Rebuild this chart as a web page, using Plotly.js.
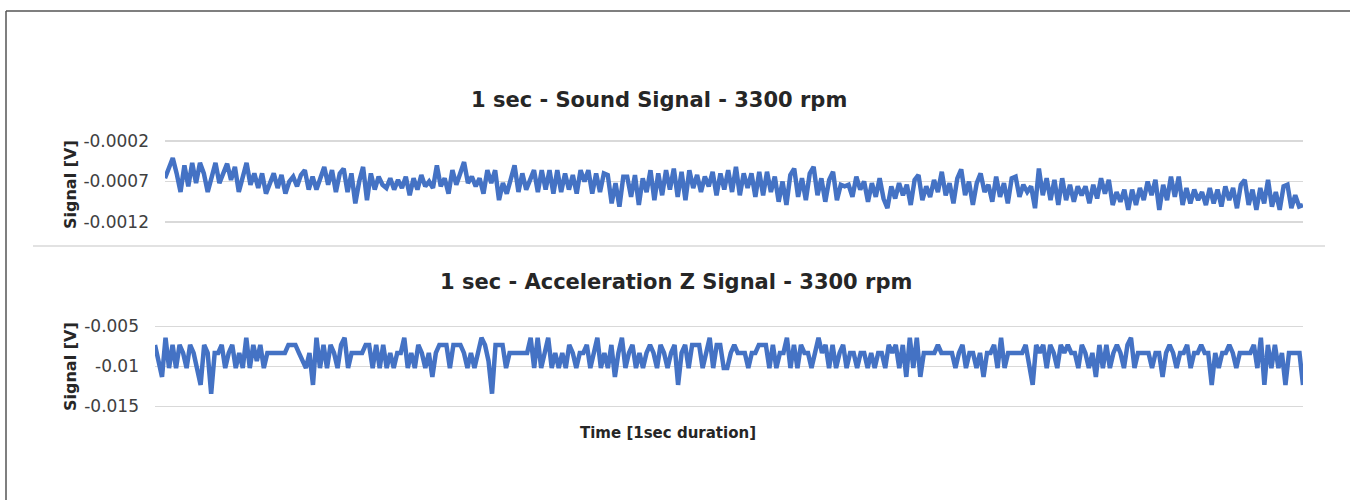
<!DOCTYPE html>
<html>
<head>
<meta charset="utf-8">
<script src="https://cdn.plot.ly/plotly-3.0.1.min.js"></script>
<style>
  html, body { margin: 0; padding: 0; background: #ffffff; }
  #chart { width: 1350px; height: 500px; }
</style>
</head>
<body>
<div id="chart"></div>
<script>
// ---------- DATA ----------
const soundTitle = "1 sec - Sound Signal - 3300 rpm";
const accelTitle = "1 sec - Acceleration Z Signal - 3300 rpm";
const xAxisTitle = "Time [1sec duration]";
const yAxisTitle = "Signal [V]";

const soundTickVals = [-0.0012, -0.0007, -0.0002];
const soundTickText = ["-0.0012", "-0.0007", "-0.0002"];
const accelTickVals = [-0.015, -0.01, -0.005];
const accelTickText = ["-0.015", "-0.01", "-0.005"];

// Sound signal [V]
const soundSignal = [
  -0.00066,-0.00052,-0.00041,-0.00060,-0.00083,-0.00050,-0.00076,-0.00047,-0.00072,-0.00047,
  -0.00060,-0.00083,-0.00065,-0.00047,-0.00072,-0.00058,-0.00048,-0.00068,-0.00052,-0.00083,
  -0.00062,-0.00047,-0.00074,-0.00060,-0.00078,-0.00060,-0.00085,-0.00072,-0.00060,-0.00078,
  -0.00062,-0.00085,-0.00070,-0.00064,-0.00076,-0.00062,-0.00056,-0.00080,-0.00064,-0.00080,
  -0.00066,-0.00052,-0.00074,-0.00056,-0.00083,-0.00060,-0.00054,-0.00083,-0.00060,-0.00097,
  -0.00070,-0.00052,-0.00093,-0.00060,-0.00080,-0.00064,-0.00074,
  -0.00078,-0.00066,-0.00080,-0.00068,-0.00078,-0.00064,-0.00087,-0.00066,-0.00080,-0.00062,
  -0.00076,-0.00070,-0.00078,-0.00050,-0.00076,-0.00066,-0.00085,-0.00056,-0.00074,-0.00060,
  -0.00046,-0.00072,-0.00064,-0.00076,-0.00066,-0.00085,-0.00056,-0.00072,-0.00056,-0.00093,
  -0.00072,-0.00085,-0.00068,-0.00050,-0.00083,-0.00060,-0.00080,-0.00066,-0.00056,-0.00083,
  -0.00056,-0.00080,-0.00056,-0.00085,-0.00056,-0.00083,-0.00060,-0.00080,-0.00062,-0.00085,
  -0.00056,-0.00070,-0.00056,-0.00085,-0.00060,-0.00083,-0.00060,-0.00062,-0.00097,-0.00072,
  -0.00101,-0.00064,
  -0.00064,-0.00089,-0.00062,-0.00099,-0.00066,-0.00083,-0.00056,-0.00093,-0.00060,-0.00087,
  -0.00056,-0.00080,-0.00054,-0.00089,-0.00058,-0.00093,-0.00056,-0.00078,-0.00062,-0.00083,
  -0.00064,-0.00076,-0.00058,-0.00087,-0.00060,-0.00080,-0.00056,-0.00083,-0.00052,-0.00087,
  -0.00060,-0.00078,-0.00060,-0.00089,-0.00058,-0.00087,-0.00058,-0.00083,-0.00064,-0.00095,
  -0.00070,-0.00099,-0.00062,-0.00054,-0.00089,-0.00066,-0.00093,-0.00060,-0.00052,-0.00087,
  -0.00066,-0.00095,-0.00068,-0.00058,-0.00093,-0.00074,-0.00076,-0.00074,-0.00089,
  -0.00064,-0.00080,-0.00070,-0.00095,-0.00072,-0.00089,-0.00066,-0.00091,-0.00103,-0.00076,
  -0.00091,-0.00072,-0.00087,-0.00074,-0.00099,-0.00068,-0.00062,-0.00093,-0.00076,-0.00089,
  -0.00068,-0.00083,-0.00058,-0.00087,-0.00072,-0.00097,-0.00066,-0.00055,-0.00087,-0.00070,
  -0.00099,-0.00072,-0.00060,-0.00083,-0.00074,-0.00095,-0.00064,-0.00089,-0.00072,-0.00097,
  -0.00066,-0.00064,-0.00089,-0.00074,-0.00083,-0.00076,-0.00103,-0.00054,-0.00087,-0.00066,
  -0.00093,-0.00068,-0.00099,-0.00066,-0.00093,-0.00074,-0.00095,-0.00076,-0.00087,
  -0.00076,-0.00097,-0.00074,-0.00091,-0.00066,-0.00085,-0.00068,-0.00099,-0.00083,-0.00095,
  -0.00080,-0.00105,-0.00080,-0.00099,-0.00078,-0.00093,-0.00070,-0.00087,-0.00068,-0.00105,
  -0.00074,-0.00093,-0.00064,-0.00089,-0.00064,-0.00099,-0.00078,-0.00097,-0.00080,-0.00093,
  -0.00083,-0.00099,-0.00078,-0.00097,-0.00080,-0.00101,-0.00076,-0.00093,-0.00078,-0.00103,
  -0.00074,-0.00068,-0.00099,-0.00080,-0.00105,-0.00078,-0.00097,-0.00068,-0.00101,-0.00083,
  -0.00105,-0.00076,-0.00074,-0.00103,-0.00087,-0.00101,-0.00099
];

// Acceleration Z signal [V]
const accelSignal = [
  -0.0073,-0.0093,-0.0113,-0.0064,-0.0102,-0.0073,-0.0102,-0.0073,-0.0083,-0.0102,
  -0.0073,-0.0083,-0.0102,-0.0123,-0.0073,-0.0083,-0.0134,-0.0083,-0.0083,-0.0073,
  -0.0102,-0.0083,-0.0073,-0.0102,-0.0083,-0.0102,-0.0064,-0.0102,-0.0073,-0.0093,
  -0.0073,-0.0102,-0.0083,-0.0083,-0.0083,-0.0083,-0.0083,-0.0083,-0.0073,-0.0073,
  -0.0073,-0.0083,-0.0093,-0.0102,-0.0083,-0.0123,-0.0064,-0.0102,-0.0073,-0.0102,
  -0.0073,-0.0083,-0.0102,-0.0073,-0.0064,-0.0102,-0.0083,-0.0083,-0.0083,-0.0083,
  -0.0073,-0.0073,-0.0102,-0.0073,-0.0102,-0.0073,-0.0102,
  -0.0083,-0.0102,-0.0083,-0.0083,-0.0064,-0.0102,-0.0083,-0.0102,-0.0073,-0.0083,
  -0.0102,-0.0083,-0.0113,-0.0083,-0.0073,-0.0073,-0.0073,-0.0102,-0.0073,-0.0073,
  -0.0073,-0.0083,-0.0102,-0.0083,-0.0102,-0.0083,-0.0064,-0.0073,-0.0093,-0.0134,
  -0.0073,-0.0073,-0.0073,-0.0102,-0.0083,-0.0083,-0.0083,-0.0083,-0.0083,-0.0083,
  -0.0064,-0.0102,-0.0064,-0.0102,-0.0083,-0.0064,-0.0102,-0.0083,-0.0102,-0.0083,
  -0.0102,-0.0073,-0.0083,-0.0102,-0.0083,-0.0083,-0.0073,-0.0102,-0.0083,-0.0064,
  -0.0102,-0.0083,-0.0102,-0.0073,-0.0113,-0.0083,-0.0064,-0.0102,-0.0083,
  -0.0073,-0.0102,-0.0083,-0.0102,-0.0083,-0.0073,-0.0083,-0.0102,-0.0073,-0.0083,
  -0.0102,-0.0083,-0.0073,-0.0123,-0.0083,-0.0073,-0.0102,-0.0073,-0.0073,-0.0073,
  -0.0102,-0.0083,-0.0064,-0.0102,-0.0073,-0.0073,-0.0102,-0.0102,-0.0083,-0.0073,
  -0.0083,-0.0083,-0.0083,-0.0102,-0.0083,-0.0083,-0.0073,-0.0073,-0.0073,-0.0102,
  -0.0073,-0.0102,-0.0083,-0.0083,-0.0064,-0.0102,-0.0073,-0.0102,-0.0073,-0.0083,
  -0.0083,-0.0102,-0.0083,-0.0064,-0.0083,-0.0073,-0.0102,-0.0073,-0.0102,-0.0083,
  -0.0073,-0.0102,-0.0083,
  -0.0083,-0.0102,-0.0083,-0.0083,-0.0102,-0.0083,-0.0102,-0.0083,-0.0083,-0.0102,
  -0.0073,-0.0083,-0.0073,-0.0102,-0.0073,-0.0113,-0.0064,-0.0102,-0.0064,-0.0113,
  -0.0083,-0.0083,-0.0083,-0.0083,-0.0073,-0.0083,-0.0083,-0.0083,-0.0083,-0.0102,
  -0.0083,-0.0073,-0.0102,-0.0083,-0.0083,-0.0102,-0.0083,-0.0113,-0.0083,-0.0083,
  -0.0073,-0.0102,-0.0064,-0.0102,-0.0083,-0.0083,-0.0083,-0.0083,-0.0083,-0.0073,
  -0.0102,-0.0123,-0.0073,-0.0083,-0.0073,-0.0102,-0.0073,-0.0083,-0.0102,-0.0073,
  -0.0083,-0.0073,-0.0083,-0.0083,-0.0102,
  -0.0073,-0.0083,-0.0102,-0.0083,-0.0113,-0.0073,-0.0102,-0.0073,-0.0102,-0.0083,
  -0.0073,-0.0083,-0.0102,-0.0073,-0.0064,-0.0102,-0.0083,-0.0083,-0.0083,-0.0083,
  -0.0102,-0.0083,-0.0083,-0.0113,-0.0083,-0.0073,-0.0083,-0.0102,-0.0083,-0.0083,
  -0.0073,-0.0102,-0.0083,-0.0083,-0.0073,-0.0083,-0.0083,-0.0123,-0.0083,-0.0102,
  -0.0083,-0.0083,-0.0073,-0.0083,-0.0102,-0.0083,-0.0083,-0.0083,-0.0083,-0.0073,
  -0.0102,-0.0064,-0.0123,-0.0073,-0.0102,-0.0073,-0.0102,-0.0083,-0.0123,-0.0083,
  -0.0083,-0.0083,-0.0083,-0.0123
];

// ---------- CHART ----------
const W = 1350, H = 500;
const px = v => v / W;          // pixel -> paper x
const py = v => 1 - v / H;      // pixel -> paper y

const soundX = soundSignal.map((_, i) => i);
const accelX = accelSignal.map((_, i) => i);

const lineColor = "#4472C4";
const textFont = "DejaVu Sans, Verdana, sans-serif";

const traces = [
  { x: soundX, y: soundSignal, xaxis: "x", yaxis: "y", type: "scatter", mode: "lines",
    line: { color: lineColor, width: 4.5 }, hoverinfo: "skip", showlegend: false },
  { x: accelX, y: accelSignal, xaxis: "x2", yaxis: "y2", type: "scatter", mode: "lines",
    line: { color: lineColor, width: 4.5 }, hoverinfo: "skip", showlegend: false }
];

const yCommon = {
  showgrid: true, gridcolor: "#d9d9d9", gridwidth: 1.2,
  zeroline: false, showline: false, ticks: "",
  tickfont: { family: textFont, size: 17, color: "#404040" },
  fixedrange: true
};
const xCommon = {
  showgrid: false, zeroline: false, showline: false, showticklabels: false, ticks: "",
  fixedrange: true
};

const layout = {
  width: W, height: H,
  margin: { l: 0, r: 0, t: 0, b: 0, pad: 0 },
  paper_bgcolor: "#ffffff", plot_bgcolor: "rgba(0,0,0,0)",
  showlegend: false,
  xaxis: Object.assign({}, xCommon, { domain: [px(165), px(1303)], range: [0, soundSignal.length - 1], anchor: "y" }),
  yaxis: Object.assign({}, yCommon, {
    domain: [py(223.6), py(139.4)], range: [-0.00122, -0.00018], anchor: "x",
    tickmode: "array", tickvals: soundTickVals, ticktext: soundTickText, ticklabelstandoff: 15
  }),
  xaxis2: Object.assign({}, xCommon, { domain: [px(155), px(1303)], range: [0, accelSignal.length - 1], anchor: "y2" }),
  yaxis2: Object.assign({}, yCommon, {
    domain: [py(408.1), py(324.9)], range: [-0.0152, -0.0048], anchor: "x2",
    tickmode: "array", tickvals: accelTickVals, ticktext: accelTickText, ticklabelstandoff: 15
  }),
  shapes: [
    { type: "line", xref: "paper", yref: "paper", x0: px(6), x1: 1, y0: py(11), y1: py(11), line: { color: "#555555", width: 1.5 } },
    { type: "line", xref: "paper", yref: "paper", x0: px(6), x1: px(6), y0: py(11), y1: 0, line: { color: "#555555", width: 1.5 } },
    { type: "line", xref: "paper", yref: "paper", x0: px(33), x1: px(1325), y0: py(246), y1: py(246), line: { color: "#d9d9d9", width: 1.5 } }
  ],
  annotations: [
    { text: "<b>" + soundTitle + "</b>", xref: "paper", yref: "paper", x: px(659), y: py(100),
      xanchor: "center", yanchor: "middle", showarrow: false, font: { family: textFont, size: 21, color: "#262626" } },
    { text: "<b>" + accelTitle + "</b>", xref: "paper", yref: "paper", x: px(676), y: py(282),
      xanchor: "center", yanchor: "middle", showarrow: false, font: { family: textFont, size: 21, color: "#262626" } },
    { text: "<b>" + xAxisTitle + "</b>", xref: "paper", yref: "paper", x: px(668), y: py(433),
      xanchor: "center", yanchor: "middle", showarrow: false, font: { family: textFont, size: 15, color: "#262626" } },
    { text: "<b>" + yAxisTitle + "</b>", xref: "paper", yref: "paper", x: px(70), y: py(185),
      xanchor: "center", yanchor: "middle", textangle: -90, showarrow: false, font: { family: textFont, size: 16, color: "#262626" } },
    { text: "<b>" + yAxisTitle + "</b>", xref: "paper", yref: "paper", x: px(70), y: py(367),
      xanchor: "center", yanchor: "middle", textangle: -90, showarrow: false, font: { family: textFont, size: 16, color: "#262626" } }
  ]
};

Plotly.newPlot("chart", traces, layout, { displayModeBar: false, staticPlot: true });
</script>
</body>
</html>
